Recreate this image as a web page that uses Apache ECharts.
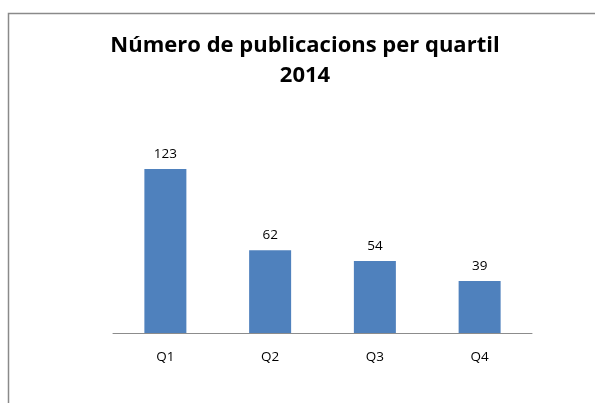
<!DOCTYPE html>
<html><head><meta charset="utf-8">
<script src="https://cdn.jsdelivr.net/npm/echarts@6/dist/echarts.min.js"></script>
<style>html,body{margin:0;padding:0;background:#fff}#c{width:595px;height:403px}</style>
</head><body><div id="c"></div>
<script>
var categories = ['Q1', 'Q2', 'Q3', 'Q4'];
var values = [123, 62, 54, 39];
var titleText = 'Número de publicacions per quartil\n2014';

var chart = echarts.init(document.getElementById('c'), null, {renderer: 'canvas'});
chart.setOption({
  animation: false,
  backgroundColor: '#fff',
  graphic: [{
    type: 'rect', shape: {x: 8.5, y: 13.5, width: 620, height: 420},
    style: {fill: 'none', stroke: '#8a8a8a', lineWidth: 1.5}, silent: true
  }, {
    type: 'text', x: 305, y: 31, silent: true,
    style: {
      text: titleText, align: 'center', verticalAlign: 'top',
      fontFamily: 'Open Sans', fontWeight: 'bold', fontSize: 22, lineHeight: 30, fill: '#000'
    }
  }],
  grid: {left: 113, right: 63, top: 146.3, bottom: 70},
  xAxis: {
    type: 'category', data: categories,
    axisLine: {lineStyle: {color: '#8c8c8c', width: 1}},
    axisTick: {show: false},
    axisLabel: {color: '#000', fontFamily: 'Open Sans', fontSize: 13.5, margin: 17}
  },
  yAxis: {
    type: 'value', min: 0, max: 140, interval: 20,
    show: false, splitLine: {show: false}
  },
  series: [{
    type: 'bar', data: values, barWidth: 42,
    itemStyle: {color: '#4F81BD'},
    label: {show: true, position: 'top', distance: 8, color: '#000', fontFamily: 'Open Sans', fontSize: 13.5}
  }]
});
</script></body></html>
